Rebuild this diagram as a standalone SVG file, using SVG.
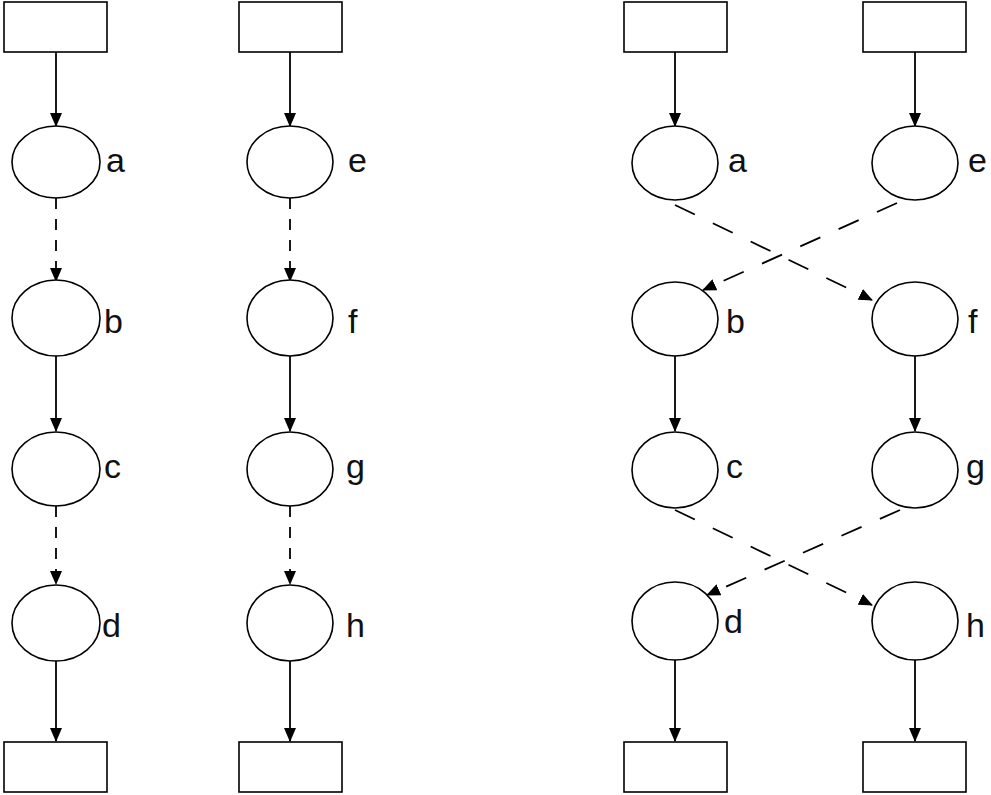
<svg xmlns="http://www.w3.org/2000/svg" width="991" height="795" viewBox="0 0 991 795">
<style>
.box{fill:#fff;stroke:#000;stroke-width:1.6}
.node{fill:#fff;stroke:#000;stroke-width:1.6}
.lbl{font-family:"Liberation Sans",Arial,sans-serif;font-size:34px;fill:#111}
.e{stroke:#000;stroke-width:1.8;fill:none;marker-end:url(#ah)}
.dv{stroke-dasharray:11 10}
.dx{stroke-dasharray:22 20}
</style>
<defs>
<marker id="ah" viewBox="0 0 14 12" refX="13" refY="6" markerWidth="14" markerHeight="12" markerUnits="userSpaceOnUse" orient="auto">
<path d="M0,0 L14,6 L0,12 Z" fill="#000"/>
</marker>
</defs>
<g id="connectors">
<line class="e" x1="56" y1="52" x2="56" y2="126"/>
<line class="e dv" x1="56" y1="198" x2="56" y2="281"/>
<line class="e" x1="56" y1="356" x2="56" y2="431"/>
<line class="e dv" x1="56" y1="506" x2="56" y2="584"/>
<line class="e" x1="56" y1="661" x2="56" y2="741"/>
<line class="e" x1="290" y1="52" x2="290" y2="126"/>
<line class="e dv" x1="290" y1="198" x2="290" y2="281"/>
<line class="e" x1="290" y1="356" x2="290" y2="431"/>
<line class="e dv" x1="290" y1="506" x2="290" y2="584"/>
<line class="e" x1="290" y1="661" x2="290" y2="741"/>
<line class="e" x1="675" y1="52" x2="675" y2="126"/>
<line class="e dx" x1="675" y1="205" x2="872" y2="300"/>
<line class="e dx" x1="897" y1="203" x2="703" y2="290"/>
<line class="e" x1="675" y1="356" x2="675" y2="431"/>
<line class="e dx" x1="675" y1="510" x2="872" y2="605"/>
<line class="e dx" x1="900" y1="510" x2="707" y2="595"/>
<line class="e" x1="675" y1="660" x2="675" y2="741"/>
<line class="e" x1="915" y1="52" x2="915" y2="126"/>
<line class="e" x1="915" y1="356" x2="915" y2="431"/>
<line class="e" x1="915" y1="660" x2="915" y2="741"/>
</g>
<g id="top1"><rect class="box" x="4" y="2" width="103" height="50"/></g>
<g id="top2"><rect class="box" x="239" y="2" width="103" height="50"/></g>
<g id="top3"><rect class="box" x="624" y="2" width="103" height="50"/></g>
<g id="top4"><rect class="box" x="863" y="2" width="103" height="50"/></g>
<g id="bot1"><rect class="box" x="4" y="742" width="103" height="50"/></g>
<g id="bot2"><rect class="box" x="239" y="742" width="103" height="50"/></g>
<g id="bot3"><rect class="box" x="624" y="742" width="103" height="50"/></g>
<g id="bot4"><rect class="box" x="863" y="742" width="103" height="50"/></g>
<g id="a1"><ellipse class="node" cx="56" cy="162" rx="44" ry="36"/><text class="lbl" x="106" y="172">a</text></g>
<g id="b1"><ellipse class="node" cx="56" cy="318" rx="44" ry="38"/><text class="lbl" x="104" y="333">b</text></g>
<g id="c1"><ellipse class="node" cx="56" cy="469" rx="44" ry="37"/><text class="lbl" x="104" y="478">c</text></g>
<g id="d1"><ellipse class="node" cx="56" cy="623" rx="44" ry="38"/><text class="lbl" x="102" y="637">d</text></g>
<g id="e1"><ellipse class="node" cx="290" cy="162" rx="43" ry="36"/><text class="lbl" x="348" y="172">e</text></g>
<g id="f1"><ellipse class="node" cx="290" cy="318" rx="43" ry="38"/><text class="lbl" x="348" y="333">f</text></g>
<g id="g1"><ellipse class="node" cx="290" cy="469" rx="43" ry="37"/><text class="lbl" x="346" y="478">g</text></g>
<g id="h1"><ellipse class="node" cx="290" cy="623" rx="43" ry="38"/><text class="lbl" x="346" y="637">h</text></g>
<g id="a2"><ellipse class="node" cx="675" cy="163" rx="43" ry="37"/><text class="lbl" x="728" y="172">a</text></g>
<g id="b2"><ellipse class="node" cx="675" cy="319" rx="43" ry="37"/><text class="lbl" x="726" y="333">b</text></g>
<g id="c2"><ellipse class="node" cx="675" cy="470" rx="43" ry="38"/><text class="lbl" x="726" y="478">c</text></g>
<g id="d2"><ellipse class="node" cx="675" cy="621" rx="43" ry="39"/><text class="lbl" x="724" y="633">d</text></g>
<g id="e2"><ellipse class="node" cx="915" cy="163" rx="43" ry="37"/><text class="lbl" x="968" y="172">e</text></g>
<g id="f2"><ellipse class="node" cx="915" cy="319" rx="43" ry="37"/><text class="lbl" x="968" y="333">f</text></g>
<g id="g2"><ellipse class="node" cx="915" cy="470" rx="43" ry="38"/><text class="lbl" x="966" y="478">g</text></g>
<g id="h2"><ellipse class="node" cx="915" cy="621" rx="43" ry="39"/><text class="lbl" x="966" y="637">h</text></g>
</svg>
